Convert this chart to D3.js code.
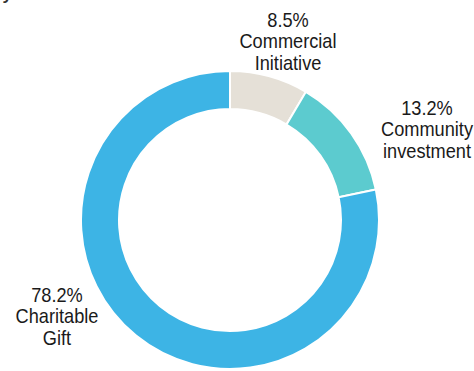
<!DOCTYPE html>
<html>
<head>
<meta charset="utf-8">
<script src="https://cdn.jsdelivr.net/npm/d3@7"></script>
<style>
  html, body { margin: 0; padding: 0; background: #fff; }
  svg { display: block; }
</style>
</head>
<body>
<svg id="chart" width="474" height="371"></svg>
<script>
// Share of contributions by motivation (clockwise from 12 o'clock)
const categories = ["Commercial Initiative", "Community investment", "Charitable Gift"];
const values = [8.5, 13.2, 78.2];
const colors = ["#e5e0d7", "#5ccbcf", "#3db4e5"];
// Label lines shown next to each slice
const labelLines = [
  ["8.5%", "Commercial", "Initiative"],
  ["13.2%", "Community", "investment"],
  ["78.2%", "Charitable", "Gift"]
];
// Label anchor (centre x, first baseline y)
const labelPos = [[288, 27], [427, 115], [57, 302]];

const svg = d3.select("#chart");
const cx = 230, cy = 220, rOuter = 149, rInner = 111;

// heading, mostly above the top edge of the frame
svg.append("text")
  .attr("x", -8).attr("y", -0.3)
  .attr("font-family", "Liberation Sans, Arial, sans-serif")
  .attr("font-size", 17).attr("font-weight", "bold")
  .attr("fill", "#333")
  .text("by motivation");

const pie = d3.pie().sort(null).startAngle(0).endAngle(2 * Math.PI);
const arc = d3.arc().innerRadius(rInner).outerRadius(rOuter);

const color = d3.scaleOrdinal().domain(categories).range(colors);

const g = svg.append("g").attr("transform", `translate(${cx},${cy})`);
g.selectAll("path")
  .data(pie(values))
  .join("path")
  .attr("d", arc)
  .attr("fill", (d, i) => color(categories[i]))
  .attr("stroke", "#fff")
  .attr("stroke-width", 2);

const lineH = 21.5;
labelLines.forEach((lines, i) => {
  const [lx, ly] = labelPos[i];
  const t = svg.append("g")
    .attr("transform", `translate(${lx},${ly}) scale(0.91,1)`);
  lines.forEach((s, j) => {
    t.append("text")
      .attr("x", 0).attr("y", j * lineH)
      .attr("text-anchor", "middle")
      .attr("font-family", "Liberation Sans, Arial, sans-serif")
      .attr("font-size", 20)
      .attr("fill", "#1a1a1a")
      .text(s);
  });
});
</script>
</body>
</html>
